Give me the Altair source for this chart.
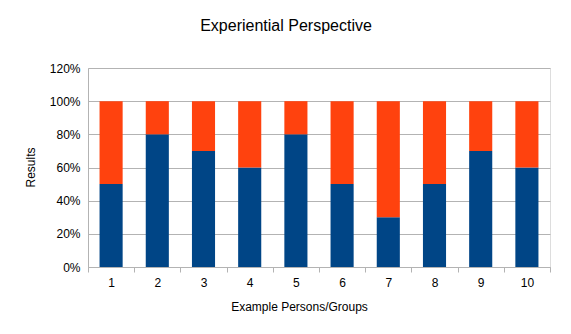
import altair as alt
import pandas as pd

persons = [1, 2, 3, 4, 5, 6, 7, 8, 9, 10]
blue_vals = [0.5, 0.8, 0.7, 0.6, 0.8, 0.5, 0.3, 0.5, 0.7, 0.6]
orange_vals = [1 - v for v in blue_vals]
y_ticks = [0, 0.2, 0.4, 0.6, 0.8, 1.0, 1.2]
x_ticks = [0.5, 1, 1.5, 2, 2.5, 3, 3.5, 4, 4.5, 5, 5.5, 6, 6.5, 7, 7.5, 8, 8.5, 9, 9.5, 10, 10.5]

df = pd.DataFrame({"person": persons, "blue": blue_vals, "orange": orange_vals})

FONT = "Liberation Sans"
GRID = "#b3b3b3"

xscale = alt.Scale(domain=[0.5, 10.5], nice=False, zero=False)
yscale = alt.Scale(domain=[0, 1.2], nice=False)

xaxis = alt.Axis(
    values=x_ticks,
    labelExpr="datum.value % 1 == 0 ? format(datum.value, 'd') : ''",
    labelOverlap=False,
    tickOpacity={"expr": "datum.value % 1 == 0 ? 0 : 1"},
    tickSize=5, tickColor=GRID, domainColor=GRID, grid=False,
    labelPadding=5, labelFontSize=12, labelFont=FONT, labelColor="#000",
    title="Example Persons/Groups", titleFont=FONT, titleFontSize=12,
    titleFontWeight="normal", titleColor="#000",
    titleX=211, titleY=43, titleBaseline="alphabetic", titleAnchor="middle",
    titleAlign="center",
)
yaxis = alt.Axis(
    values=y_ticks, format=".0%", tickSize=0, labelPadding=8,
    gridColor=GRID, domainColor=GRID,
    labelFontSize=12, labelFont=FONT, labelColor="#000",
    title="Results", titleFont=FONT, titleFontSize=12, titleFontWeight="normal",
    titleColor="#000", titleX=-58, titleY=99, titleAngle=270,
    titleAlign="center", titleBaseline="middle",
)

base = alt.Chart(df).transform_calculate(
    left="datum.person - 0.25", right="datum.person + 0.25", top="1"
)

blue = base.mark_bar(color="#004586").encode(
    x=alt.X("left:Q", scale=xscale, axis=xaxis),
    x2="right:Q",
    y=alt.Y("blue:Q", scale=yscale, axis=yaxis),
    y2=alt.datum(0),
)
orange = base.mark_bar(color="#ff420e").encode(
    x=alt.X("left:Q", scale=xscale, axis=xaxis),
    x2="right:Q",
    y=alt.Y("blue:Q", scale=yscale, axis=yaxis),
    y2="top:Q",
)

chart = alt.layer(blue, orange).properties(
    width=462, height=199,
    autosize=alt.AutoSizeParams(type="none"),
    padding={"left": 88, "top": 68, "right": 21, "bottom": 67},
    title=alt.TitleParams(
        "Experiential Perspective", font=FONT, fontSize=16, fontWeight="normal",
        color="#000", anchor="middle", dx=-33, offset=28,
    ),
).configure_view(stroke=GRID, strokeWidth=1).configure(background="white")

chart.save("out.html", embed_options={"renderer": "svg", "actions": False})
